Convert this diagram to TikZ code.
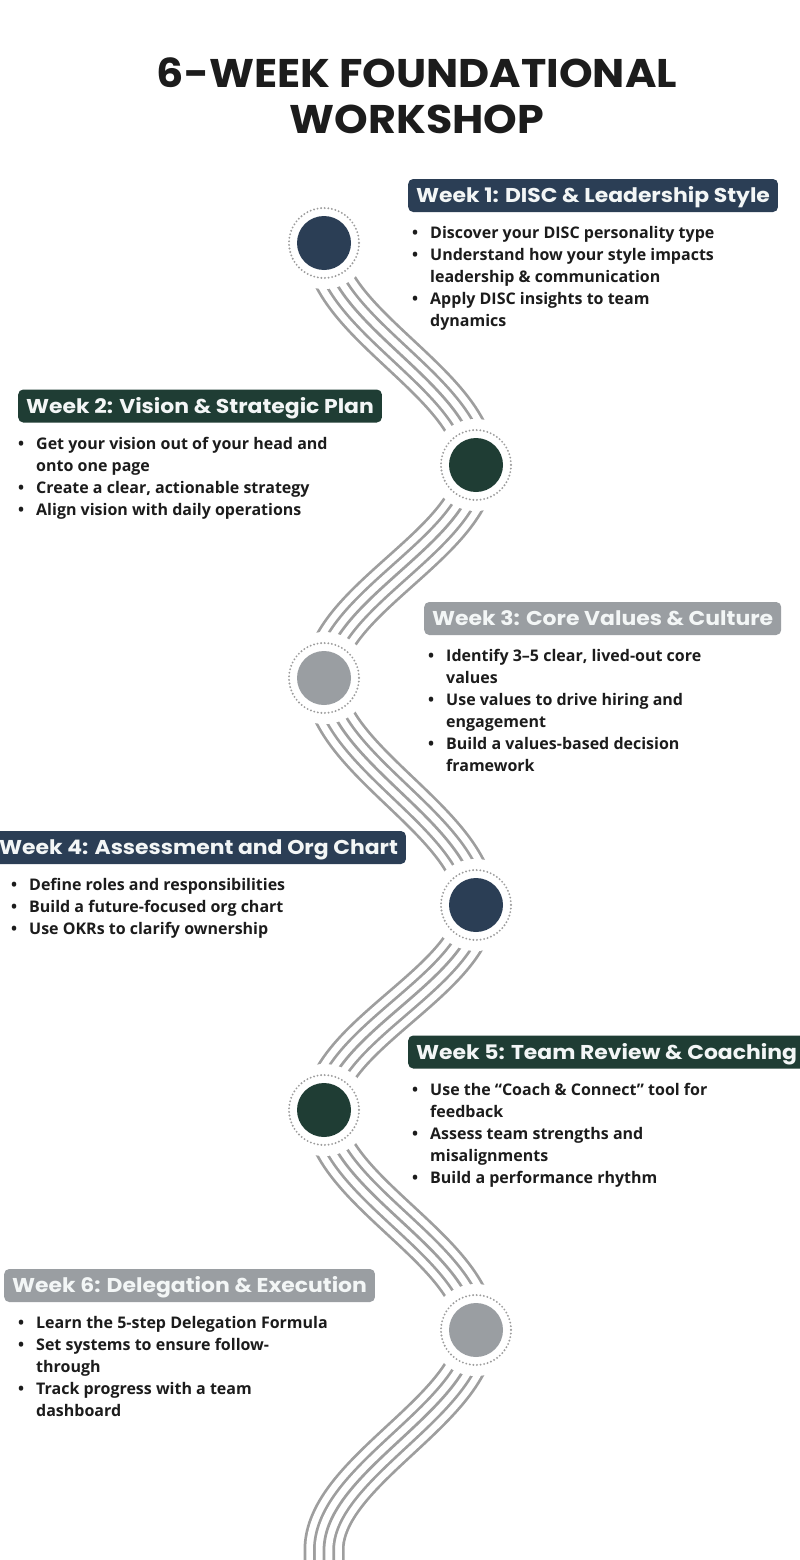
\documentclass[tikz,border=0pt]{standalone}
\usepackage{fontspec}
\setmainfont{Open Sans}
\newfontfamily\headfont{Poppins}[FakeStretch=1.095]
\newfontfamily\titlefont{Poppins}[FakeStretch=1.07]
\usetikzlibrary{positioning}
\definecolor{navy}{HTML}{2B3E55}
\definecolor{pine}{HTML}{1F3D34}
\definecolor{stone}{HTML}{9A9EA2}
\definecolor{rail}{HTML}{9E9E9E}
\definecolor{dotgray}{HTML}{9C9C9C}
\definecolor{ink}{HTML}{1C1C1C}
\definecolor{headtext}{HTML}{F3F6F6}
\newcommand{\bl}{\makebox[18pt][l]{\textbullet}}
\newcommand{\ind}{\hspace*{18pt}}

\begin{document}
\begin{tikzpicture}[x=1pt, y=-1pt,
    stop/.style={circle, inner sep=0pt, minimum size=54pt},
    ring/.style={draw=dotgray, line width=2.1pt, line cap=round, dash pattern=on 0pt off 3.6pt},
    road/.style={postaction={draw=rail, line width=41pt},
                 postaction={draw=white, line width=35.5pt},
                 postaction={draw=rail, line width=22pt},
                 postaction={draw=white, line width=16.5pt},
                 postaction={draw=rail, line width=2.75pt}},
    weekhead/.style={rounded corners=5pt, text=headtext, inner xsep=8pt, inner ysep=0pt,
                     minimum height=33pt, text height=14.4pt, text depth=0pt,
                     font=\headfont\bfseries\fontsize{20}{22}\selectfont},
    items/.style={align=left, inner sep=0pt, text=ink,
                  font=\bfseries\fontsize{16}{22}\selectfont}]
    \useasboundingbox (0,0) rectangle (800,1560);
    \fill[white] (0,0) rectangle (800,1560);
    \clip (0,0) rectangle (800,1560);

    % titolo
    \node[align=center, inner sep=0pt, anchor=north, text=ink,
          font=\titlefont\bfseries\fontsize{40}{46}\selectfont] (title) at (417,58)
          {6-WEEK FOUNDATIONAL\\WORKSHOP};

    % tappe del percorso
    \coordinate (p1) at (324,243);
    \coordinate (p2) at (476,465);
    \coordinate (p3) at (324,678);
    \coordinate (p4) at (476,905);
    \coordinate (p5) at (324,1110);
    \coordinate (p6) at (476,1330);
    \coordinate (p7) at (324,1550);

    % strada a cinque binari
    \path[road] (p1) .. controls +(0,80) and +(0,-80) .. (p2)
        .. controls +(0,77) and +(0,-77) .. (p3)
        .. controls +(0,82) and +(0,-82) .. (p4)
        .. controls +(0,74) and +(0,-74) .. (p5)
        .. controls +(0,79) and +(0,-79) .. (p6)
        .. controls +(0,79) and +(0,-79) .. (p7) -- ++(0,40);

    % cerchi
    \foreach \i/\c in {1/navy, 2/pine, 3/stone, 4/navy, 5/pine, 6/stone} {
        \fill[white] (p\i) circle (46);
        \draw[ring] (p\i) circle (35);
        \node[stop, fill=\c] (s\i) at (p\i) {};
    }

    % settimana 1
    \node[weekhead, fill=navy, anchor=west] (h1) at (408,195.5) {Week 1: DISC \& Leadership Style};
    \node[items, below right=14pt and 4pt of h1.south west] (b1) {%
        \bl Discover your DISC personality type\\
        \bl Understand how your style impacts\\
        \ind leadership \& communication\\
        \bl Apply DISC insights to team\\
        \ind dynamics};

    % settimana 2
    \node[weekhead, fill=pine, anchor=west] (h2) at (18,406) {Week 2: Vision \& Strategic Plan};
    \node[items, below right=14pt and 0pt of h2.south west] (b2) {%
        \bl Get your vision out of your head and\\
        \ind onto one page\\
        \bl Create a clear, actionable strategy\\
        \bl Align vision with daily operations};

    % settimana 3
    \node[weekhead, fill=stone, anchor=west] (h3) at (424,618.5) {Week 3: Core Values \& Culture};
    \node[items, below right=14pt and 4pt of h3.south west] (b3) {%
        \bl Identify 3–5 clear, lived-out core\\
        \ind values\\
        \bl Use values to drive hiring and\\
        \ind engagement\\
        \bl Build a values-based decision\\
        \ind framework};

    % settimana 4
    \node[weekhead, fill=navy, anchor=west] (h4) at (-9,847.5) {Week 4: Assessment and Org Chart};
    \node[items, below right=14pt and 20pt of h4.south west] (b4) {%
        \bl Define roles and responsibilities\\
        \bl Build a future-focused org chart\\
        \bl Use OKRs to clarify ownership};

    % settimana 5
    \node[weekhead, fill=pine, anchor=west] (h5) at (408,1052) {Week 5: Team Review \& Coaching};
    \node[items, below right=14pt and 4pt of h5.south west] (b5) {%
        \bl Use the “Coach \& Connect” tool for\\
        \ind feedback\\
        \bl Assess team strengths and\\
        \ind misalignments\\
        \bl Build a performance rhythm};

    % settimana 6
    \node[weekhead, fill=stone, anchor=west] (h6) at (4,1285.5) {Week 6: Delegation \& Execution};
    \node[items, below right=14pt and 14pt of h6.south west] (b6) {%
        \bl Learn the 5-step Delegation Formula\\
        \bl Set systems to ensure follow-\\
        \ind through\\
        \bl Track progress with a team\\
        \ind dashboard};
\end{tikzpicture}
\end{document}
